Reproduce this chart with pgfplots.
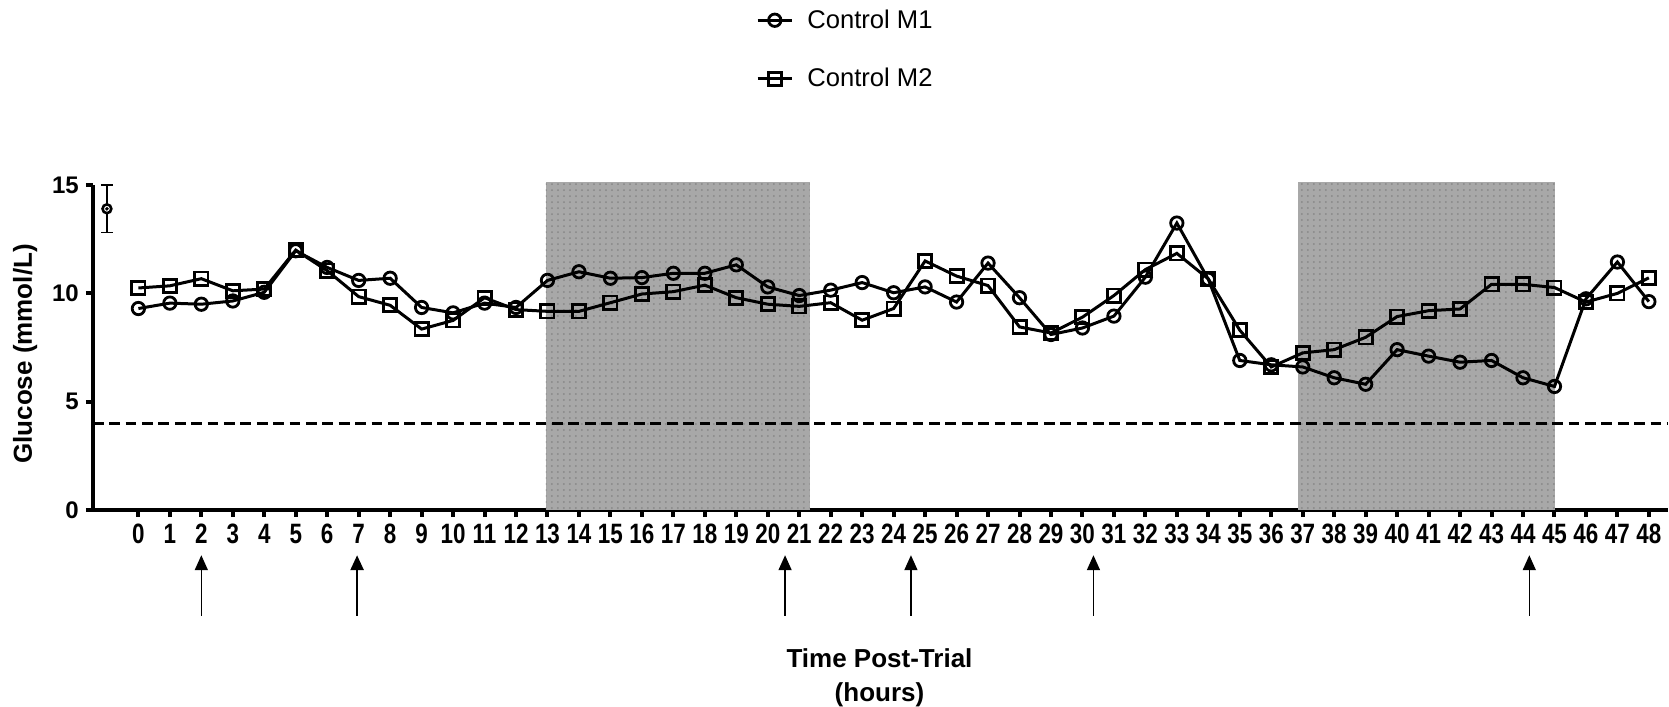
\documentclass[border=0pt]{standalone}
\usepackage{pgfplots}
\usepackage{pgfplotstable}
\pgfplotsset{compat=1.18}
\usepackage{fontspec}
\setmainfont{Liberation Sans}
\newfontfamily\narrowsans[FakeStretch=0.8]{Liberation Sans}
\usetikzlibrary{arrows.meta,patterns}
\definecolor{bandgray}{HTML}{A8A8A8}
\definecolor{banddot}{HTML}{868686}

\pgfplotstableread{
x m1 m2
0 9.30 10.25
1 9.55 10.35
2 9.50 10.68
3 9.65 10.12
4 10.05 10.20
5 11.97 12.00
6 11.20 11.05
7 10.60 9.85
8 10.70 9.45
9 9.35 8.35
10 9.10 8.75
11 9.55 9.80
12 9.35 9.25
13 10.60 9.17
14 11.00 9.17
15 10.70 9.57
16 10.73 9.97
17 10.93 10.08
18 10.93 10.38
19 11.32 9.80
20 10.30 9.50
21 9.90 9.40
22 10.15 9.57
23 10.50 8.76
24 10.03 9.30
25 10.30 11.50
26 9.60 10.80
27 11.40 10.36
28 9.80 8.45
29 8.10 8.17
30 8.40 8.90
31 8.95 9.90
32 10.75 11.10
33 13.25 11.85
34 10.65 10.67
35 6.90 8.30
36 6.70 6.60
37 6.60 7.25
38 6.10 7.40
39 5.80 7.97
40 7.40 8.93
41 7.10 9.20
42 6.82 9.28
43 6.90 10.42
44 6.10 10.42
45 5.70 10.27
46 9.75 9.60
47 11.45 10.00
48 9.62 10.72
}\data

\begin{document}
\begin{tikzpicture}
\begin{axis}[
  scale only axis, width=787.9pt, height=162.3pt,
  xmin=-1.45, xmax=48.62, ymin=0, ymax=15,
  axis x line=bottom, axis y line=left,
  axis line style={-, line width=2pt},
  xtick={0,...,48}, ytick={0,5,10,15},
  tick align=outside, major tick length=3.5pt,
  tick style={black, line width=2pt},
  x tick label style={font=\narrowsans\bfseries\fontsize{14}{16}\selectfont},
  y tick label style={font=\bfseries\fontsize{12}{14}\selectfont},
  /pgf/number format/assume math mode=true,
  clip=false,
  legend style={draw=none, fill=none, at={(0.4208,1.555)}, anchor=north west,
    font=\fontsize{12.8}{15}\selectfont, row sep=14.5pt, inner sep=0pt,
    /tikz/every odd column/.append style={column sep=5pt}},
  legend cell align=left,
]
\fill[bandgray] (axis cs:12.95,0) rectangle (axis cs:21.33,15.15);
\fill[pattern=dots, pattern color=banddot] (axis cs:12.95,0) rectangle (axis cs:21.33,15.15);
\fill[bandgray] (axis cs:36.85,0) rectangle (axis cs:45.03,15.15);
\fill[pattern=dots, pattern color=banddot] (axis cs:36.85,0) rectangle (axis cs:45.03,15.15);
\draw[black, line width=1.5pt, dash pattern=on 5.4pt off 2.8pt] (axis cs:-1.45,4) -- (axis cs:48.62,4);

\addplot[black, line width=1.5pt, mark=o, mark size=3.1pt, mark options={fill=white, line width=1.4pt, solid}] table[x=x,y=m1] {\data};
\addlegendentry{Control M1}
\addplot[black, line width=1.5pt, mark=square, mark size=3.3pt, mark options={fill=white, line width=1.4pt, solid}] table[x=x,y=m2] {\data};
\addlegendentry{Control M2}

\addplot[forget plot, black, line width=0.8pt, mark=none, error bars/.cd, y dir=both, y explicit, error bar style={line width=0.8pt}, error mark options={rotate=90, line width=0.8pt, mark size=3pt}] coordinates {(-1,13.91) +- (0,1.09)};
\addplot[forget plot, only marks, mark=*, mark size=2.2pt, mark options={fill=white, draw=black, line width=1.3pt}] coordinates {(-1,13.91)};
\addplot[forget plot, only marks, mark=*, mark size=0.7pt, black] coordinates {(-1,13.91)};

\foreach \ax/\lw in {2/0.8pt, 6.95/1.3pt, 20.55/0.8pt, 24.55/0.8pt, 30.35/0.8pt, 44.2/0.8pt}{
  \edef\temp{\noexpand\draw[line width=\lw, -{Triangle[width=6.5pt,length=7.5pt]}] (axis cs:\ax,-4.9) -- (axis cs:\ax,-2.1);}
  \temp
}

\node[rotate=90, font=\bfseries\fontsize{13}{15}\selectfont] at (axis cs:-3.6,7.2) {Glucose (mmol/L)};
\node[align=center, font=\bfseries\fontsize{13}{17}\selectfont] at (axis cs:23.55,-7.78) {Time Post-Trial\\(hours)};

\coordinate (BL) at (axis cs:-4.398,-9.07);
\coordinate (TR) at (axis cs:48.64,23.56);
\end{axis}
\pgfresetboundingbox
\path[use as bounding box] (BL) rectangle (TR);
\end{tikzpicture}
\end{document}
